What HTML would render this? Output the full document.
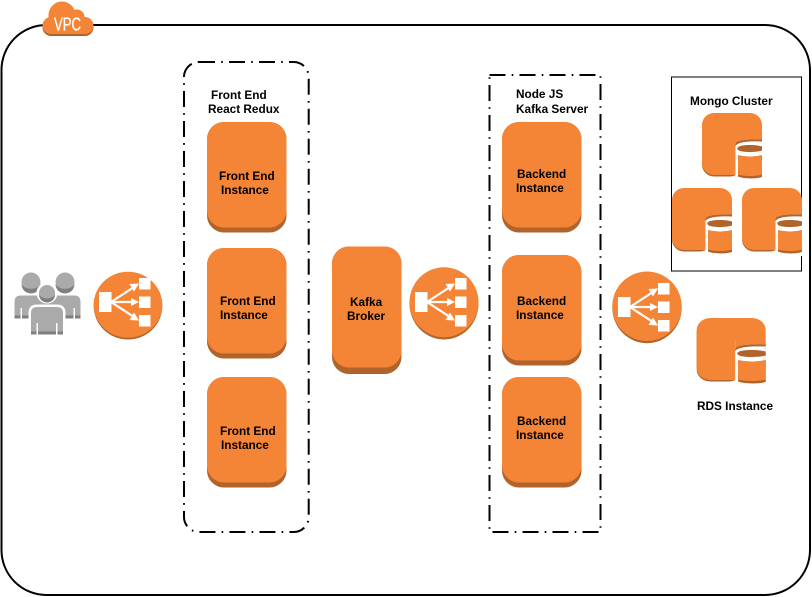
<!DOCTYPE html>
<html>
<head>
<meta charset="utf-8">
<style>
html,body{margin:0;padding:0;background:#fff;width:812px;height:597px;overflow:hidden}
svg{display:block}
text{font-family:"Liberation Sans",sans-serif;font-size:11.8px;font-weight:bold;fill:#000;stroke:none}
</style>
</head>
<body>
<svg width="812" height="597" viewBox="0 0 812 597" xmlns="http://www.w3.org/2000/svg">
<defs>
<g id="lbi">
  <rect x="-29" y="-10" width="12.500" height="20" fill="#fff"/>
  <rect x="11" y="-24" width="11.500" height="11.500" fill="#fff"/>
  <rect x="11" y="-5.500" width="11.500" height="11.500" fill="#fff"/>
  <rect x="11" y="13" width="11.500" height="11.500" fill="#fff"/>
  <path d="M-17 0L6 -15M-17 0L5 0M-17 0L6 15" stroke="#fff" stroke-width="2.200" fill="none"/>
  <path d="M11 -18.500L1.500 -18L6 -10.500ZM11 0L3 -4L3 4ZM11 18.500L1.500 18L6 10.500Z" fill="#fff"/>
</g>
<g id="db">
  <rect x="0" y="1.500" width="40" height="62" rx="12" fill="#b0632a"/>
  <rect x="0" y="0" width="60" height="62" rx="12" fill="#f58536"/>
  <rect x="33.500" y="22" width="26.500" height="46" fill="#fff"/>
  <path d="M33.500 22H60V26.500C46 26 33.500 27 33.500 31Z" fill="#f58536"/>
  <path d="M33.500 31C33.500 27 46 26 60 26.500V28.500C46 28 36 29 33.500 33Z" fill="#b0632a"/>
  <path d="M35.300 35.500C35.300 33 41 32 47.800 32C53 32 57 32.500 60 33.500V37.500C57 38.500 53 39 47.800 39C41 39 35.300 38 35.300 35.500Z" fill="#b0632a"/>
  <path d="M36 42C42 44 54 44 60 42V64C54 66 42 66 36 63.500Z" fill="#b0632a"/>
  <path d="M36 42C42 44 54 44 60 42V61.500C54 63.500 42 63.500 36 61.500Z" fill="#f58536"/>
</g>
<g id="cloud">
  <circle cx="62" cy="15" r="13.500"/>
  <circle cx="77" cy="17" r="7.500"/>
  <circle cx="85" cy="25.500" r="8.500"/>
  <circle cx="51" cy="25.500" r="8.500"/>
  <rect x="50" y="17" width="35" height="17"/>
</g>
</defs>

<rect x="0" y="0" width="812" height="597" fill="#fff"/>

<!-- VPC frame -->
<rect x="1.500" y="25" width="808.500" height="570" rx="45" ry="45" fill="#fff" stroke="#000" stroke-width="2"/>

<!-- VPC cloud -->
<use href="#cloud" fill="#b0632a" y="2"/>
<use href="#cloud" fill="#f58536"/>
<text x="54" y="30.500" style="font-size:18px;font-weight:normal;fill:#fff;stroke:#fff;stroke-width:.3" textLength="27" lengthAdjust="spacingAndGlyphs">VPC</text>

<!-- Dashed groups -->
<rect x="184" y="62" width="124.700" height="470" rx="15" ry="15" fill="none" stroke="#000" stroke-width="2" stroke-dasharray="16 6.200 1.600 6.200"/>
<rect x="489.500" y="75" width="111" height="457" fill="none" stroke="#000" stroke-width="2" stroke-dasharray="16 6.200 1.600 6.200"/>

<!-- Mongo box -->
<rect x="671.500" y="77" width="130" height="194" fill="#fff" stroke="#000" stroke-width="1"/>

<!-- Front end instances -->
<rect x="207" y="122" width="79.500" height="110.500" rx="17" fill="#b0632a"/><rect x="207" y="122" width="79.500" height="105.500" rx="17" fill="#f58536"/>
<rect x="207" y="248" width="79.500" height="110.500" rx="17" fill="#b0632a"/><rect x="207" y="248" width="79.500" height="105.500" rx="17" fill="#f58536"/>
<rect x="207" y="377" width="79.500" height="110.500" rx="17" fill="#b0632a"/><rect x="207" y="377" width="79.500" height="105.500" rx="17" fill="#f58536"/>
<!-- Backend instances -->
<rect x="502" y="122" width="79.500" height="110.500" rx="17" fill="#b0632a"/><rect x="502" y="122" width="79.500" height="105.500" rx="17" fill="#f58536"/>
<rect x="502" y="255" width="79.500" height="110.500" rx="17" fill="#b0632a"/><rect x="502" y="255" width="79.500" height="105.500" rx="17" fill="#f58536"/>
<rect x="502" y="377" width="79.500" height="110.500" rx="17" fill="#b0632a"/><rect x="502" y="377" width="79.500" height="105.500" rx="17" fill="#f58536"/>
<!-- Kafka -->
<rect x="332" y="246.500" width="69.500" height="127.500" rx="17" fill="#b0632a"/>
<rect x="332" y="246.500" width="69.500" height="121" rx="17" fill="#f58536"/>

<!-- Load balancers -->
<ellipse cx="128" cy="306" rx="34.300" ry="33.500" fill="#b0632a"/>
<ellipse cx="128" cy="304.800" rx="34.300" ry="33" fill="#f58536"/>
<use href="#lbi" x="128" y="302"/>
<ellipse cx="444" cy="303.500" rx="34.500" ry="36" fill="#b0632a"/>
<ellipse cx="444" cy="302.300" rx="34.500" ry="35" fill="#f58536"/>
<use href="#lbi" x="444" y="302"/>
<ellipse cx="647" cy="307.500" rx="34.700" ry="35.700" fill="#b0632a"/>
<ellipse cx="647" cy="306.300" rx="34.700" ry="34.700" fill="#f58536"/>
<use href="#lbi" x="647" y="307"/>

<!-- Users -->
<circle cx="31" cy="282" r="9.500" fill="#aaa"/>
<circle cx="65" cy="282" r="9.500" fill="#aaa"/>
<path d="M21.500 284a9.500 9.500 0 0 0 19 0a10 7 0 0 1-19 0Z" fill="#7f7f7f"/>
<path d="M55.500 284a9.500 9.500 0 0 0 19 0a10 7 0 0 1-19 0Z" fill="#7f7f7f"/>
<path d="M14.500 318.500V302Q14.500 295.500 21 295.500H74Q80.500 295.500 80.500 302V318.500Z" fill="#aaa"/>
<rect x="14.500" y="315.500" width="66" height="3" fill="#7f7f7f"/>
<rect x="20.500" y="308" width="1.500" height="11" fill="#fff"/>
<rect x="73.500" y="308" width="1.500" height="11" fill="#fff"/>
<circle cx="47" cy="293" r="10.500" fill="#fff"/>
<path d="M28.500 336V313Q28.500 304.500 37 304.500H57Q65.500 304.500 65.500 313V336Z" fill="#fff"/>
<circle cx="47" cy="293" r="8" fill="#aaa"/>
<path d="M39 294.500a8 8 0 0 0 16 0a8.500 6 0 0 1-16 0Z" fill="#7f7f7f"/>
<path d="M31 334.500V313Q31 307 37 307H57Q63 307 63 313V334.500Z" fill="#aaa"/>
<rect x="31" y="331.500" width="32" height="3" fill="#7f7f7f"/>
<rect x="36.500" y="323" width="1.500" height="11.500" fill="#fff"/>
<rect x="56" y="323" width="1.500" height="11.500" fill="#fff"/>

<!-- DB icons -->
<use href="#db" x="702" y="113"/>
<use href="#db" x="672" y="188"/>
<use href="#db" x="742" y="188"/>
<g transform="translate(696.700,318) scale(1.150,1)"><use href="#db"/></g>

<!-- Labels -->
<text x="211" y="99">Front End</text>
<text x="208" y="113">React Redux</text>
<text x="516" y="98">Node JS</text>
<text x="516" y="113">Kafka Server</text>
<text x="690" y="105">Mongo Cluster</text>
<text x="697" y="410">RDS Instance</text>
<text x="219" y="180">Front End</text>
<text x="221" y="194">Instance</text>
<text x="220" y="305">Front End</text>
<text x="220" y="319">Instance</text>
<text x="220" y="435">Front End</text>
<text x="221" y="449">Instance</text>
<text x="517" y="178">Backend</text>
<text x="516" y="192">Instance</text>
<text x="517" y="305">Backend</text>
<text x="516" y="319">Instance</text>
<text x="517" y="425">Backend</text>
<text x="516" y="439">Instance</text>
<text x="350" y="306">Kafka</text>
<text x="347" y="320">Broker</text>
</svg>
</body>
</html>
